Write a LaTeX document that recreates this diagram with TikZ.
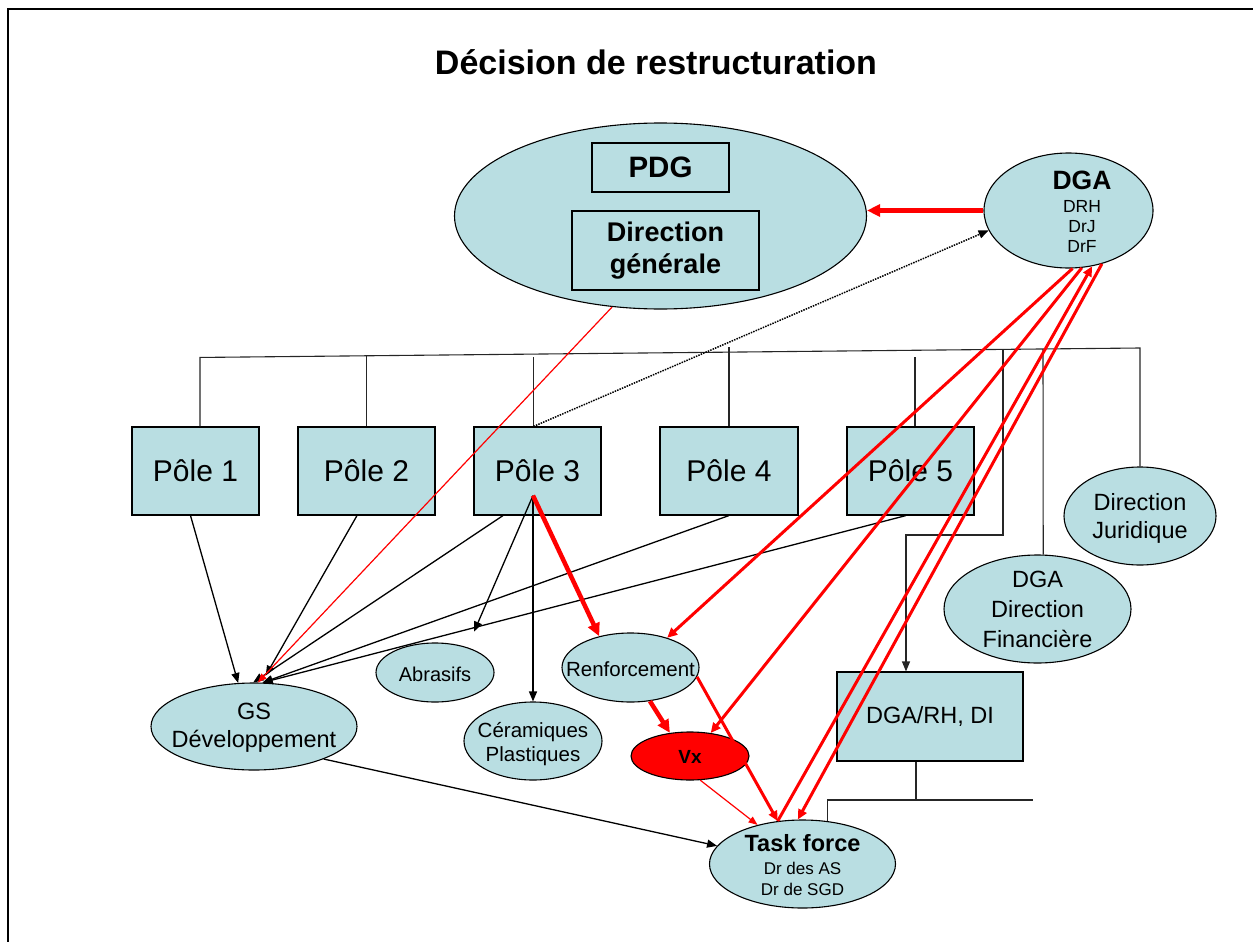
\documentclass[tikz,border=0pt]{standalone}
\usepackage{fontspec}
\setmainfont{Liberation Sans}
\usetikzlibrary{shapes.geometric,arrows.meta}
\definecolor{lb}{RGB}{185,222,226}
\newcommand{\myfs}[2]{\fontsize{#1}{#2}\selectfont}
\begin{document}
\begin{tikzpicture}[x=1pt,y=-1pt,
  ell/.style 2 args={ellipse, draw, fill=lb, inner sep=0pt, line width=1.1pt, minimum width=#1, minimum height=#2},
  box/.style 2 args={rectangle, draw, fill=lb, inner sep=0pt, line width=1.1pt, minimum width=#1, minimum height=#2, align=center},
  txt/.style={inner sep=0pt, align=center},
  org/.style={line width=1.1pt, draw=black!85},
  blk/.style={line width=1.3pt, -{Triangle[length=10pt,width=8pt]}},
  rthin/.style={red, line width=1.2pt, -{Triangle[length=9pt,width=7pt]}},
  rmed/.style={red, line width=3pt, -{Triangle[length=10pt,width=9pt]}},
  rthk/.style={red, line width=4.5pt, -{Triangle[length=13pt,width=12pt]}},
  dots/.style={line width=1.5pt, dash pattern=on 1.5pt off 1.1pt, -{Triangle[length=10pt,width=8pt]}}
]
\useasboundingbox (0,0) rectangle (1253,942);
% frame
\draw[line width=2.5pt] (8,942) -- (8,9) -- (1253,9);

% title
\node[txt, font=\myfs{34}{40}\bfseries] (title) at (656,62) {Décision de restructuration};

% top
\node[ell={412pt}{186pt}] (pdgell) at (660.5,216) {};
\node[box={137pt}{49pt}, font=\myfs{29.5}{34}\bfseries] (pdg) at (660.5,167.5) {PDG};
\node[box={187pt}{79pt}, font=\myfs{27}{32}\bfseries] (dg) at (665.5,250.5) {Direction\\générale};
\node[ell={169pt}{115pt}] (dga) at (1068.5,210.5) {};
\node[txt, font=\myfs{17.5}{20}] (dgat) at (1082,212) {{\myfs{26.5}{26.5}\bfseries DGA}\\[3pt]DRH\\DrJ\\DrF};

% poles
\node[box={127pt}{88pt}, font=\myfs{30}{36}] (pole1) at (195.5,471) {Pôle 1};
\node[box={137pt}{88pt}, font=\myfs{30}{36}] (pole2) at (366.5,471) {Pôle 2};
\node[box={127pt}{88pt}, font=\myfs{30}{36}] (pole3) at (537.5,471) {Pôle 3};
\node[box={138pt}{88pt}, font=\myfs{30}{36}] (pole4) at (729,471) {Pôle 4};
\node[box={127pt}{88pt}, font=\myfs{30}{36}] (pole5) at (910.5,471) {Pôle 5};

% right side
\node[ell={152pt}{98pt}] (dj) at (1140,516) {};
\node[txt, font=\myfs{23.5}{28}] (djt) at (1140,518) {Direction\\Juridique};
\node[ell={187pt}{108pt}] (ddf) at (1037.5,609) {};
\node[txt, font=\myfs{23.5}{30}] (ddft) at (1037.5,609) {DGA\\Direction\\Financière};
\node[box={186pt}{89pt}, font=\myfs{23.5}{28}] (dgarh) at (930,716.5) {DGA/RH, DI};

% lower ellipses
\node[ell={206pt}{87pt}] (gs) at (254,726.5) {};
\node[txt, font=\myfs{23.5}{28}] (gst) at (254,728) {GS\\Développement};
\node[ell={118pt}{59pt}] (abr) at (435,672.5) {};
\node[txt, font=\myfs{20}{24}] (abrt) at (435,674.5) {Abrasifs};
\node[ell={138pt}{78pt}] (cer) at (533,741) {};
\node[txt, font=\myfs{20.5}{24.5}] (cert) at (533,744) {Céramiques\\Plastiques};
\node[ell={137pt}{69pt}] (ren) at (630.5,667.5) {};
\node[txt, font=\myfs{20.5}{24}] (rent) at (630.5,669.5) {Renforcement};
\node[ellipse, draw, fill=red, inner sep=0pt, line width=1.1pt, minimum width=118pt, minimum height=48pt] (vx) at (690,756) {};
\node[txt, font=\myfs{19}{22}\bfseries] (vxt) at (690,757) {Vx};
\node[ell={186pt}{88pt}] (tf) at (802.5,864) {};
\node[txt, font=\myfs{17}{21}] (tft) at (802.5,865) {{\myfs{23.5}{23.5}\bfseries Task force}\\[2pt]Dr des AS\\Dr de SGD};

% org tree lines
\draw[org] ([xshift=4.5pt]pole1.north) -- ++(0,-69) coordinate (hl) -- (1140,348) coordinate (hr) -- (dj.north);
\draw[org] (pole2.north) -- ++(0,-71);
\draw[org] ([xshift=-4pt]pole3.north) -- ++(0,-69);
\draw[org] (pole4.north) -- ++(0,-79);
\draw[org] ([xshift=4.5pt]pole5.north) -- ++(0,-69);
\coordinate (vdr) at (1003,349);
\coordinate (vdf) at (1043,349);
\draw[org, -{Triangle[length=10pt,width=8pt]}] (vdr) -- (1003,535) -| ([xshift=-24pt]dgarh.north);
\draw[org] (vdf) -- (ddf.84);
\draw[org] ([xshift=-14pt]dgarh.south) -- ++(0,39) coordinate (hb);
\coordinate (hbend) at (1033,800);
\draw[org] (tf.60) |- (hbend);

% black connectors
\coordinate (p3o) at ([xshift=-4.5pt,yshift=20pt]pole3.south);
\draw[blk] ([xshift=-5pt]pole1.south) -- (gs.110);
\draw[blk, shorten >=8pt] ([xshift=-9.5pt]pole2.south) -- (gs.80);
\draw[blk] ([xshift=-34.5pt]pole3.south) -- (gs.91);
\draw[blk] (pole4.south) -- (gs.79);
\draw[blk] ([xshift=-4.5pt]pole5.south) -- (gs.79);
\draw[blk, shorten >=17pt] (p3o) -- (abr.38);
\draw[blk] (p3o) -- (cer.north);
\draw[blk] (gs.335) -- (tf.168);
\draw[dots] ([xshift=-4pt]pole3.north) -- (dga.194);

% red connectors
\draw[rthk] (dga.west) -- (pdgell.east |- dga.west);
\draw[rthin] (pdgell.242) -- (gs.85);
\draw[rthk] (p3o) -- (ren.135);
\draw[rthk] (ren.300) -- (vx.131);
\draw[rmed] (dga.274.5) -- (ren.39);
\draw[rmed] (dga.283.4) -- (vx.48);
\draw[rmed] (tf.120) -- (dga.293);
\draw[rmed] (dga.302.4) -- (tf.96);
\draw[rmed] (ren.352) -- (tf.120);
\draw[rthin] (vx.293) -- (tf.139);
\end{tikzpicture}
\end{document}
